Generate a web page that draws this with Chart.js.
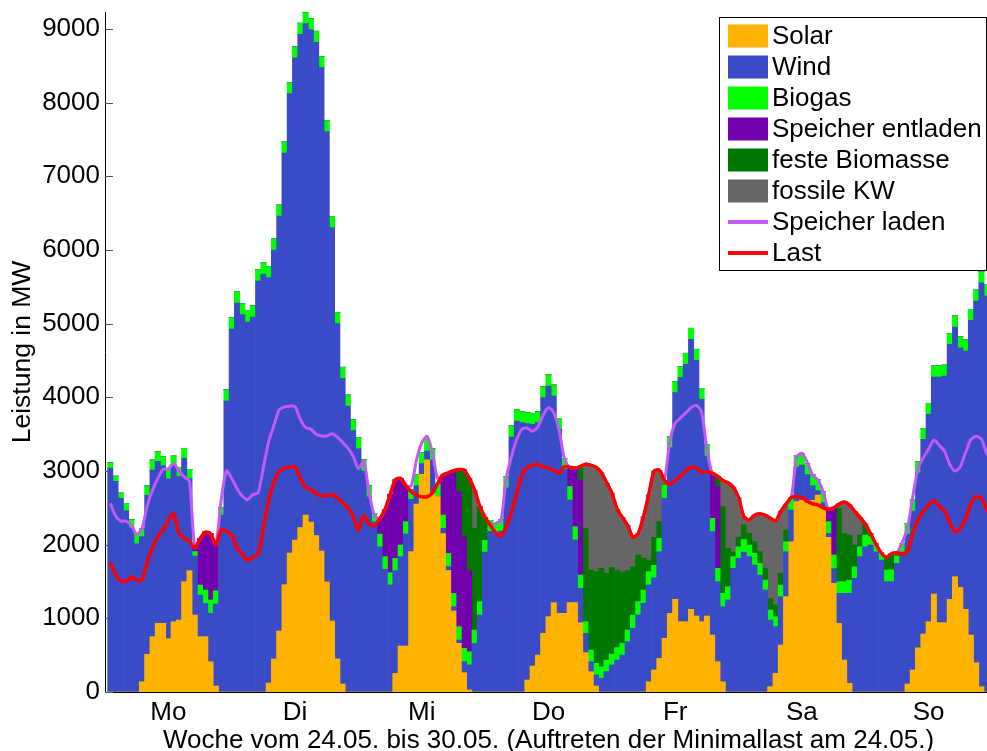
<!DOCTYPE html>
<html><head><meta charset="utf-8">
<script src="https://cdn.jsdelivr.net/npm/chart.js@4/dist/chart.umd.min.js"></script>
<style>html,body{margin:0;padding:0;background:#fff;overflow:hidden;width:987px;height:751px}#wrap{width:987px;height:751px;position:relative;overflow:hidden}canvas{display:block}</style>
</head><body><div id="wrap"><canvas id="c" width="992" height="751"></canvas></div>
<script>
// ---- categories / ticks ----
const dayLabels = ['Mo', 'Di', 'Mi', 'Do', 'Fr', 'Sa', 'So'];
const hourSlots = Array.from({length: 168}, (_, i) => i + 1);   // bar positions 1..168 on a 0..168 axis
const dayTickHours = [12, 36, 60, 84, 108, 132, 156];
const yTickValues = [0, 1000, 2000, 3000, 4000, 5000, 6000, 7000, 8000, 9000];
const xMax = 168;
const yMax = 9230;

// ---- series (MW, hourly) ----
const solar = [
  0,0,0,0,0,0,140,511,751,932,932,724,954,977,1497,1647,1045,751,751,411,81,0,0,0,
  0,0,0,0,0,0,122,448,828,1456,1887,2063,2233,2403,2307,2124,1914,1493,964,448,109,0,0,0,
  0,0,0,0,0,0,253,624,624,1905,2552,2954,3150,2700,2651,2150,1650,1100,660,262,27,0,0,0,
  0,0,0,0,0,0,0,163,353,502,796,1023,1213,1068,1068,1213,1213,941,534,276,82,0,0,0,
  0,0,0,0,0,0,140,299,457,729,1068,1258,955,955,1122,1032,955,1032,774,412,140,0,0,0,
  0,0,0,0,0,72,253,638,1294,2040,2583,2600,2560,2600,2674,2500,2100,1475,932,434,117,0,0,0,
  0,0,0,0,0,0,0,108,298,601,787,954,1330,941,941,1257,1565,1420,1122,773,398,72,0,0
];
const wind = [
  3040,2860,2630,2460,2230,2010,1970,2160,2262,2198,2138,2171,2126,1946,1675,1249,801,565,452,657,1113,2400,3950,4927,
  5280,5122,5020,5090,5578,5673,5504,5551,5632,5860,6235,6544,6695,6670,6681,6695,6560,6114,5340,4553,4149,3881,3547,3305,
  3000,2650,2310,1972,1665,1452,1394,1213,1520,710,248,146,120,450,0,71,51,58,46,149,340,660,1045,1900,
  2180,2140,2185,2773,3461,3678,3656,3479,3280,3154,3199,3130,2804,2497,1954,1394,851,466,263,136,149,186,276,367,
  434,502,683,864,1046,1204,1313,1251,1448,1900,2248,2805,3312,3493,3665,3470,3017,2171,1403,1086,1018,1250,1679,1815,
  1900,1837,1724,1588,1384,905,634,656,611,430,470,480,390,200,60,70,54,200,407,905,1222,1543,1837,1972,
  1995,1904,1792,1497,1500,1746,1900,2031,2158,2375,2642,2814,2945,3334,3347,3461,3389,3253,3506,4271,4908,5483,5374,5374
];
const biogas = [
  70,70,70,100,110,120,110,126,136,130,124,118,123,126,135,126,60,136,181,181,181,100,150,150,
  150,150,150,150,150,150,150,150,150,150,150,150,150,150,150,150,150,150,150,150,150,150,150,150,
  150,150,115,172,172,168,167,158,168,127,150,150,150,150,180,181,181,181,181,181,180,181,181,160,
  150,150,150,150,150,150,150,150,150,150,150,150,150,150,150,181,181,181,158,158,158,158,158,150,
  170,160,159,182,181,181,181,170,181,181,150,150,150,150,150,150,150,150,181,181,181,180,158,158,
  170,158,158,158,136,136,135,158,135,150,150,150,150,150,150,150,158,185,159,160,181,158,135,159,
  114,106,98,159,160,100,118,150,150,150,150,150,150,150,150,150,150,150,150,150,150,150,150,150
];
const speicherEntladen = [
  0,0,0,0,0,0,0,0,0,0,0,0,0,0,0,0,55,628,792,905,620,0,0,0,
  0,0,0,0,0,0,0,0,0,0,0,0,0,0,0,0,0,0,0,0,0,0,0,0,
  0,0,0,206,633,1060,1066,905,488,0,0,0,0,0,0,543,1093,1666,1832,1516,1100,0,0,0,
  0,0,0,0,0,0,0,0,0,0,0,0,0,0,0,262,795,1290,0,0,0,0,0,0,
  0,0,0,0,0,0,0,0,0,0,0,0,0,0,0,0,0,0,612,1108,0,0,0,0,
  0,0,0,0,0,0,0,0,0,0,0,0,0,0,0,0,168,640,0,0,0,0,0,0,
  0,0,0,0,0,0,0,0,0,0,0,0,0,0,0,0,0,0,0,0,0,0,0,0
];
const festeBiomasse = [
  0,0,0,0,0,0,0,0,0,0,0,0,0,0,0,0,0,0,0,0,0,0,0,0,
  0,0,0,0,0,0,0,0,0,0,0,0,0,0,0,0,0,0,0,0,0,0,0,0,
  0,0,0,0,0,0,0,0,0,0,0,0,0,0,0,0,0,0,301,907,1253,1380,1294,310,
  0,0,0,0,0,0,0,0,0,0,0,0,0,0,0,0,0,182,1267,1086,1245,1335,1177,1173,
  1046,958,808,654,633,430,158,380,226,0,0,0,0,0,0,0,0,0,0,143,1177,520,63,127,
  200,159,158,159,158,158,159,158,159,0,0,0,0,0,0,0,0,0,995,650,611,294,160,149,
  41,0,0,174,220,44,0,0,0,0,0,0,0,0,0,0,0,0,0,0,0,0,0,0
];
const fossileKW = [
  0,0,0,0,0,0,0,0,0,0,0,0,0,0,0,0,0,0,0,0,0,0,0,0,
  0,0,0,0,0,0,0,0,0,0,0,0,0,0,0,0,0,0,0,0,0,0,0,0,
  0,0,0,0,0,0,0,0,0,0,0,0,0,0,0,0,0,0,0,0,0,519,0,0,
  0,0,0,0,0,0,0,0,0,0,0,0,0,0,0,0,0,0,868,1424,1416,1301,1229,1010,
  830,750,610,400,290,565,888,900,698,60,0,0,0,0,0,0,0,0,0,0,354,890,880,540,
  110,181,360,515,722,1089,1139,840,351,20,0,0,0,0,0,0,0,0,57,431,409,455,238,0,
  0,0,0,0,0,0,0,0,0,0,0,0,0,0,0,0,0,0,0,0,0,0,0,0
];
const speicherLaden = [
  2560,2390,2320,2320,2260,2140,2220,2530,2740,2900,3020,3030,3100,3000,2920,2860,1960,2080,2170,2150,2000,2600,3000,2900,
  2760,2660,2610,2680,2705,3050,3400,3620,3830,3870,3880,3872,3700,3590,3565,3500,3475,3475,3505,3460,3390,3310,3200,3030,
  3130,2720,2400,2350,2470,2680,2880,2900,2800,2800,3150,3380,3470,3250,2900,2945,2975,3005,3020,3015,2900,2740,2520,2370,
  2260,2290,2330,2900,3200,3430,3570,3580,3540,3600,3760,3860,3790,3560,3170,3050,3040,3060,3090,3080,3050,2980,2840,2700,
  2480,2370,2260,2100,2150,2380,2680,3000,3010,2900,3420,3650,3720,3790,3860,3890,3800,3300,2970,2930,2870,2840,2780,2640,
  2380,2335,2400,2420,2400,2360,2320,2450,2550,2640,3190,3240,3120,2950,2880,2720,2480,2500,2550,2580,2540,2450,2370,2280,
  2150,2010,1890,1830,1880,1890,2030,2230,2650,3040,3180,3300,3420,3350,3270,3090,3000,3060,3250,3425,3470,3430,3240,3150
];
const last = [
  1760,1590,1510,1497,1560,1520,1520,1760,1960,2110,2200,2330,2420,2160,2090,2045,1960,2080,2170,2150,2000,2200,2180,2130,
  1960,1870,1790,1830,1870,2230,2600,2850,3000,3040,3054,3050,2900,2775,2750,2690,2665,2660,2685,2630,2570,2500,2390,2190,
  2395,2280,2260,2350,2470,2680,2880,2900,2800,2720,2670,2650,2650,2700,2830,2945,2975,3005,3020,3015,2900,2740,2520,2370,
  2260,2160,2120,2240,2450,2700,2950,3050,3080,3090,3055,3040,3010,2970,3060,3050,3040,3060,3090,3080,3050,2980,2840,2700,
  2480,2370,2260,2100,2150,2380,2680,3000,3010,2870,2820,2870,2930,3000,3050,3040,2980,2990,2970,2930,2870,2840,2780,2640,
  2380,2335,2400,2420,2400,2360,2320,2450,2550,2640,2655,2635,2590,2555,2540,2500,2480,2500,2550,2580,2540,2450,2370,2280,
  2150,2010,1890,1830,1880,1890,1870,1910,2150,2340,2450,2540,2600,2520,2460,2300,2176,2220,2350,2560,2650,2630,2470,2400
];

const xTitle = 'Woche vom 24.05. bis 30.05. (Auftreten der Minimallast am 24.05.)';
const yTitle = 'Leistung in MW';

const FONT = '"Liberation Sans", Arial, Helvetica, sans-serif';
Chart.defaults.font.family = FONT;
Chart.defaults.color = '#000';

const barDs = (label, data, color) => ({
  type: 'bar', label, data, backgroundColor: color, borderWidth: 0,
  stack: 'gen', categoryPercentage: 1, barPercentage: 1, order: 2
});
const lineDs = (label, data, color, width, order) => ({
  type: 'line', label, data, borderColor: color, backgroundColor: color, borderWidth: width,
  pointRadius: 0, tension: 0.25, fill: false, stack: label, order
});

const datasets = [
  barDs('Solar', solar, '#FFB300'),
  barDs('Wind', wind, '#3A4BC8'),
  barDs('Biogas', biogas, '#00FF00'),
  barDs('Speicher entladen', speicherEntladen, '#7300AE'),
  barDs('feste Biomasse', festeBiomasse, '#007800'),
  barDs('fossile KW', fossileKW, '#666666'),
  lineDs('Speicher laden', speicherLaden, '#C25AF5', 3, 1),
  lineDs('Last', last, '#FF0000', 3.5, 0)
];

const legendPlugin = {
  id: 'boxLegend',
  afterDraw(chart) {
    const ctx = chart.ctx;
    const bx = 719.5, by = 17.5, bw = 267, bh = 253;
    ctx.save();
    ctx.fillStyle = '#fff';
    ctx.fillRect(bx, by, bw, bh);
    ctx.strokeStyle = '#000';
    ctx.lineWidth = 1;
    ctx.strokeRect(bx, by, bw, bh);
    ctx.font = '26px ' + FONT;
    ctx.textBaseline = 'middle';
    ctx.textAlign = 'left';
    chart.data.datasets.forEach((ds, i) => {
      const cy = 36 + i * 31;
      if (ds.type === 'bar') {
        ctx.fillStyle = ds.backgroundColor;
        ctx.fillRect(728, cy - 11.5, 40, 23);
      } else {
        ctx.strokeStyle = ds.borderColor;
        ctx.lineWidth = 4;
        ctx.beginPath();
        ctx.moveTo(728, cy);
        ctx.lineTo(768, cy);
        ctx.stroke();
      }
      ctx.fillStyle = '#000';
      ctx.fillText(ds.label, 772, cy + 1);
    });
    ctx.restore();
  }
};

const innerTicks = {
  id: 'innerTicks',
  beforeDatasetsDraw(chart) {
    const ctx = chart.ctx, y = chart.scales.y, a = chart.chartArea;
    ctx.save();
    ctx.strokeStyle = '#555';
    ctx.lineWidth = 1;
    yTickValues.forEach(v => {
      const py = Math.round(y.getPixelForValue(v)) + 0.5;
      ctx.beginPath();
      ctx.moveTo(a.left, py);
      ctx.lineTo(a.left + 8, py);
      ctx.stroke();
    });
    ctx.restore();
  }
};

new Chart(document.getElementById('c'), {
  data: { labels: hourSlots, datasets },
  options: {
    responsive: false,
    animation: false,
    layout: { padding: { top: 12, left: 0, right: 0, bottom: 0 } },
    plugins: { legend: { display: false }, tooltip: { enabled: false } },
    scales: {
      x: {
        type: 'linear', position: 'bottom', min: 0, max: xMax, offset: false, stacked: true,
        grid: { display: false, drawTicks: false },
        border: { display: true, color: '#000', width: 1 },
        afterBuildTicks: s => { s.ticks = dayTickHours.map(v => ({ value: v })); },
        ticks: { autoSkip: false, maxRotation: 0, padding: 5, font: { size: 26 }, color: '#000',
                 callback: (v, i) => dayLabels[i] },
        title: { display: true, text: xTitle, font: { size: 26, lineHeight: 1 }, color: '#000', padding: { top: 0, bottom: -3 } },
        afterFit: s => { s.height = 59; s.paddingLeft = 0; s.paddingRight = 0; }
      },
      y: {
        stacked: true, min: 0, max: yMax,
        grid: { display: false, drawTicks: false },
        border: { display: true, color: '#000', width: 1 },
        afterBuildTicks: s => { s.ticks = yTickValues.map(v => ({ value: v })); },
        ticks: { font: { size: 26 }, color: '#000', padding: 5, callback: v => String(v) },
        title: { display: true, text: yTitle, font: { size: 26.5 }, color: '#000', padding: { top: 6.5, bottom: 0 } },
        afterFit: s => { s.width = 105; s.paddingTop = 0; s.paddingBottom = 0; }
      }
    }
  },
  plugins: [innerTicks, legendPlugin]
});
</script>
</body></html>
